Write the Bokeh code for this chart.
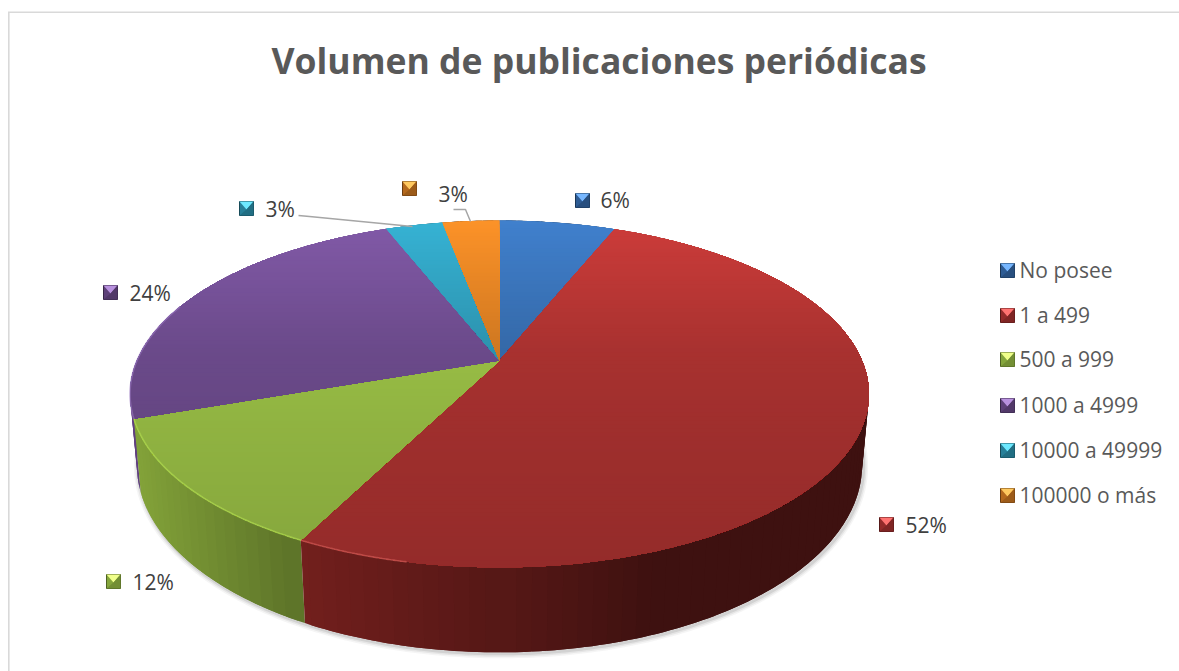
import numpy as np
from bokeh.plotting import figure
from bokeh.models import Range1d, ColumnDataSource
from bokeh.core.properties import value
from bokeh.embed import file_html
from bokeh.resources import INLINE

title = "Volumen de publicaciones periódicas"
categories = ["No posee", "1 a 499", "500 a 999", "1000 a 4999", "10000 a 49999", "100000 o más"]
shares = [6.1, 51.4, 12.2, 24.3, 3.0, 3.0]
labels = ["6%", "52%", "12%", "24%", "3%", "3%"]

top_rgb = [(64, 128, 205), (205, 60, 58), (185, 230, 84), (130, 90, 168), (54, 178, 212), (252, 146, 40)]
side_rgb = [(50, 100, 160), (205, 56, 52), (165, 205, 72), (120, 80, 160), (40, 140, 170), (200, 110, 30)]
rim_rgb = ["#6fa0dd", "#d9605c", "#b4e052", "#9a78c0", "#60c8e0", "#ffb060"]

W, H = 1179, 671
p = figure(width=W, height=H, x_range=Range1d(0, W), y_range=Range1d(H, 0),
           toolbar_location=None, output_backend="svg", min_border=0)
p.axis.visible = False
p.grid.visible = False
p.outline_line_color = None
p.background_fill_color = "white"


def hexc(rgb, f=1.0):
    return "#%02x%02x%02x" % tuple(int(max(0, min(255, round(c * f)))) for c in rgb)


def proj(t, a, b, c, d):
    u, v = np.sin(t), np.cos(t)
    w = 1 + c * v
    return 499 + d * u / w, (a + b * v) / w


TOP = (360, -97.5, 0.193, 362.5)
LOW = (429, -99, 0.19, 356)

cum = np.concatenate([[0], np.cumsum(shares)]) / np.sum(shares) * 2 * np.pi


def clip_below(pts, y0):
    out = []
    n = len(pts)
    for i in range(n):
        a, b = pts[i], pts[(i + 1) % n]
        ina, inb = a[1] >= y0, b[1] >= y0
        if ina:
            out.append(a)
        if ina != inb:
            s = (y0 - a[1]) / (b[1] - a[1])
            out.append((a[0] + s * (b[0] - a[0]), y0))
    return out


# shadow beneath the lower rim
ts = np.linspace(np.radians(85), np.radians(292), 240)
sx, sy = proj(ts, *LOW)
for lw, al in [(9, 0.05), (6, 0.08), (3, 0.12)]:
    p.line(sx + 1.5, sy + 1.5, line_color="#404040", line_width=lw, line_alpha=al)

# side wall, back to front; each strip overlaps its neighbours to hide seams
sxs, sys, scol = [], [], []
steps = []
for i in range(len(shares)):
    n = max(2, int(np.degrees(cum[i + 1] - cum[i]) / 2))
    e = np.linspace(cum[i], cum[i + 1], n + 1)
    for k in range(n):
        steps.append((e[k], e[k + 1], i))
steps.sort(key=lambda s: -np.cos((s[0] + s[1]) / 2))
side_x = [130, 300, 500, 650, 870]
side_f = [0.80, 0.56, 0.42, 0.30, 0.30]
pad = np.radians(1.0)
for t0, t1, i in steps:
    tt = np.linspace(max(t0 - pad, cum[i]), min(t1 + pad, cum[i + 1]), 5)
    x0, y0 = proj(tt, *TOP)
    x1, y1 = proj(tt, *LOW)
    sxs.append(x0.tolist() + x1[::-1].tolist())
    sys.append(y0.tolist() + y1[::-1].tolist())
    mx, _ = proj(np.array([(t0 + t1) / 2]), *TOP)
    scol.append(hexc(side_rgb[i], float(np.interp(mx[0], side_x, side_f))))
p.patches("xs", "ys", source=ColumnDataSource(dict(xs=sxs, ys=sys, c=scol)),
          fill_color="c", line_color=None)

# top face: painted top to bottom, each layer covering everything below its edge
shade_y = [220, 350, 420, 570]
shade_f = [1.0, 0.82, 0.78, 0.72]
txs, tys, tcol = [], [], []
bands = np.arange(216, 572, 4.0)
for i in range(len(shares)):
    n = max(8, int(np.degrees(cum[i + 1] - cum[i]) * 2))
    e = np.linspace(cum[i], cum[i + 1], n + 1)
    rx, ry = proj(e, *TOP)
    poly = [(499.0, 360.0)] + list(zip(rx.tolist(), ry.tolist()))
    for b in bands:
        q = clip_below(poly, b)
        if len(q) >= 3:
            txs.append([c[0] for c in q])
            tys.append([c[1] for c in q])
            tcol.append(hexc(top_rgb[i], float(np.interp(b + 2, shade_y, shade_f))))
p.patches("xs", "ys", source=ColumnDataSource(dict(xs=txs, ys=tys, c=tcol)),
          fill_color="c", line_color=None)

# light rim on the front-left edge of the top face
for i in range(len(shares)):
    lo, hi = max(cum[i], np.radians(192)), min(cum[i + 1], np.radians(290))
    if hi > lo:
        rx, ry = proj(np.linspace(lo, hi, 80), *TOP)
        p.line(rx, ry, line_color=rim_rgb[i], line_width=1.6, line_alpha=0.6)

# chart frame
p.segment([8.3, 7.5], [11.5, 11.7], [8.3, W], [H, 11.7], line_color="#d9d9d9", line_width=1.6)

# leader lines
p.line([298, 309, 412], [215, 216, 226], line_color="#a6a6a6", line_width=1.5)
p.line([453, 465, 470], [209, 209, 221], line_color="#a6a6a6", line_width=1.5)


def key(cx, cy, rgb):
    h = 7
    p.patch([cx - h, cx + h, cx + h, cx - h], [cy - h, cy - h, cy + h, cy + h],
            fill_color=hexc(rgb, 0.72), line_color=hexc(rgb, 0.42), line_width=1)
    p.patch([cx - h, cx + h, cx], [cy - h, cy - h, cy + 1],
            fill_color=hexc(tuple(min(255, c + 55) for c in rgb)), line_color=None)
    p.patch([cx - h, cx, cx + h, cx + h, cx - h], [cy + h, cy + 1, cy - h, cy + h, cy + h],
            fill_color=hexc(rgb, 0.62), line_color=None)


# data labels
key_pos = [(582, 200), (886, 524), (113, 581), (110, 292), (246, 208), (409, 188)]
lab_pos = [(600, 199), (905, 524), (132, 581), (129, 292), (265, 208), (438, 193)]
for (kx, ky), (lx, ly), lab, rgb in zip(key_pos, lab_pos, labels, top_rgb):
    key(kx, ky, rgb)
    p.text([lx], [ly], text=[lab], text_font=value("Open Sans"), text_font_size="21px",
           text_color="#404040", text_baseline="middle", text_align="left")

# legend
leg_y = [270, 315, 359, 405, 450, 495]
for cat, ly, rgb in zip(categories, leg_y, top_rgb):
    key(1007, ly, rgb)
    p.text([1019], [ly - 0.5], text=[cat], text_font=value("Open Sans"), text_font_size="21px",
           text_color="#595959", text_baseline="middle", text_align="left")

# title
p.text([598.5], [59], text=[title], text_font=value("Open Sans"), text_font_size="35.5px",
       text_font_style="bold", text_color="#595959", text_baseline="middle", text_align="center")

open("out.html", "w").write(file_html(p, INLINE))
